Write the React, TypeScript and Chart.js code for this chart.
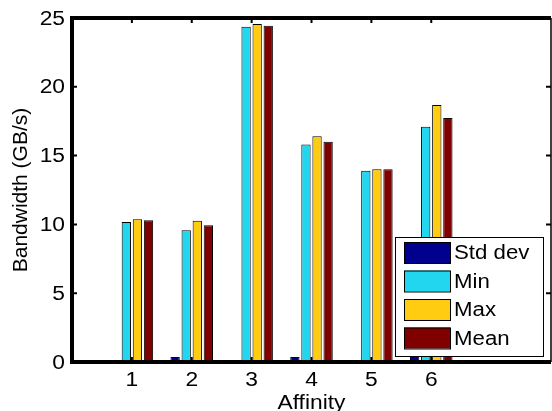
import React, { useEffect, useRef } from "react";
import { Chart, registerables } from "chart.js";

Chart.register(...registerables);

const affinity = [1, 2, 3, 4, 5, 6];
const tickLabels = ["1", "2", "3", "4", "5", "6"];
const seriesNames = ["Std dev", "Min", "Max", "Mean"];
const stdDev = [0.03, 0.37, 0.03, 0.36, 0.03, 0.5];
const minVals = [10.17, 9.57, 24.37, 15.8, 13.9, 17.1];
const maxVals = [10.37, 10.27, 24.56, 16.4, 14.0, 18.68];
const meanVals = [10.3, 9.93, 24.44, 16.0, 14.0, 17.73];
const colors = ["#00008F", "#22D6F0", "#FFCC11", "#800000"];
const yTicks = [0, 5, 10, 15, 20, 25];
const xTitle = "Affinity";
const yTitle = "Bandwidth (GB/s)";

const FONT = "'Liberation Sans', Arial, sans-serif";
const SX = 1.14;

function stretchedText(ctx: any, text: string, x: number, y: number, align: "left" | "center" | "right") {
  ctx.save();
  ctx.translate(x, y);
  ctx.scale(SX, 1);
  ctx.textAlign = align;
  ctx.fillText(text, 0, 0);
  ctx.restore();
}

const framePlugin = {
  id: "frame",
  afterDraw(chart: any) {
    const { ctx, chartArea } = chart;
    const { left, right, top, bottom } = chartArea;
    const xs = chart.scales.x;
    const ys = chart.scales.y;
    ctx.save();
    ctx.strokeStyle = "#000";
    // tick marks (inward)
    ctx.lineWidth = 2;
    const tl = 5;
    yTicks.forEach((v) => {
      const py = ys.getPixelForValue(v);
      ctx.beginPath();
      ctx.moveTo(left, py);
      ctx.lineTo(left + tl, py);
      ctx.moveTo(right, py);
      ctx.lineTo(right - tl, py);
      ctx.stroke();
    });
    affinity.forEach((v) => {
      const px = xs.getPixelForValue(v);
      ctx.beginPath();
      ctx.moveTo(px, bottom);
      ctx.lineTo(px, bottom - tl);
      ctx.moveTo(px, top);
      ctx.lineTo(px, top + tl);
      ctx.stroke();
    });
    // frame
    ctx.lineWidth = 4;
    ctx.beginPath();
    ctx.moveTo(right, top);
    ctx.lineTo(left, top);
    ctx.lineTo(left, bottom);
    ctx.lineTo(right, bottom);
    ctx.stroke();
    ctx.lineWidth = 1.5;
    ctx.beginPath();
    ctx.moveTo(right, top);
    ctx.lineTo(right, bottom);
    ctx.stroke();

    // tick labels
    ctx.fillStyle = "#000";
    ctx.font = `20px ${FONT}`;
    ctx.textBaseline = "middle";
    yTicks.forEach((v) => {
      stretchedText(ctx, String(v), left - 7, ys.getPixelForValue(v) + 1, "right");
    });
    affinity.forEach((v, i) => {
      stretchedText(ctx, tickLabels[i], xs.getPixelForValue(v), bottom + 18, "center");
    });
    // axis titles
    ctx.textBaseline = "alphabetic";
    stretchedText(ctx, xTitle, (left + right) / 2, bottom + 47, "center");
    ctx.save();
    ctx.translate(27, (top + bottom) / 2);
    ctx.rotate(-Math.PI / 2);
    ctx.font = `21px ${FONT}`;
    ctx.textAlign = "center";
    ctx.fillText(yTitle, 0, 0);
    ctx.restore();

    // legend
    const lx = 395, ly = 237, lw = 148, lh = 119;
    ctx.fillStyle = "#fff";
    ctx.fillRect(lx, ly, lw, lh);
    ctx.lineWidth = 1;
    ctx.strokeStyle = "#000";
    ctx.strokeRect(lx + 0.5, ly + 0.5, lw, lh);
    ctx.font = `19.5px ${FONT}`;
    ctx.textBaseline = "middle";
    chart.data.datasets.forEach((ds: any, i: number) => {
      const ry = ly + 5 + i * 28.5;
      ctx.fillStyle = ds.backgroundColor;
      ctx.fillRect(lx + 9, ry, 46, 21);
      ctx.strokeStyle = "#000";
      ctx.strokeRect(lx + 9.5, ry + 0.5, 46, 21);
      ctx.fillStyle = "#000";
      stretchedText(ctx, ds.label, lx + 59, ry + 12, "left");
    });
    ctx.restore();
  },
};

export default function App() {
  const ref = useRef<HTMLCanvasElement>(null);
  useEffect(() => {
    document.body.style.margin = "0";
    const series = [stdDev, minVals, maxVals, meanVals];
    const chart = new Chart(ref.current!, {
      type: "bar",
      data: {
        datasets: series.map((vals, i) => ({
          label: seriesNames[i],
          data: vals.map((v, j) => ({ x: affinity[j], y: v })),
          backgroundColor: colors[i],
          borderColor: "#000",
          borderWidth: 1,
          categoryPercentage: 0.74,
          barPercentage: 0.84,
        })),
      },
      options: {
        responsive: false,
        animation: false,
        layout: { padding: { top: 18, right: 1, left: 0, bottom: 0 } },
        plugins: { legend: { display: false }, tooltip: { enabled: false } },
        scales: {
          x: {
            type: "linear",
            offset: false,
            min: 0,
            max: 8,
            grid: { display: false, drawTicks: false },
            border: { display: false },
            ticks: { display: false },
            afterFit: (s: any) => {
              s.height = 49;
            },
          },
          y: {
            type: "linear",
            min: 0,
            max: 25,
            grid: { display: false, drawTicks: false },
            border: { display: false },
            ticks: { display: false },
            afterFit: (s: any) => {
              s.width = 72;
            },
          },
        },
      },
      plugins: [framePlugin],
    } as any);
    return () => chart.destroy();
  }, []);
  return <canvas ref={ref} width={552} height={411} style={{ display: "block" }} />;
}
